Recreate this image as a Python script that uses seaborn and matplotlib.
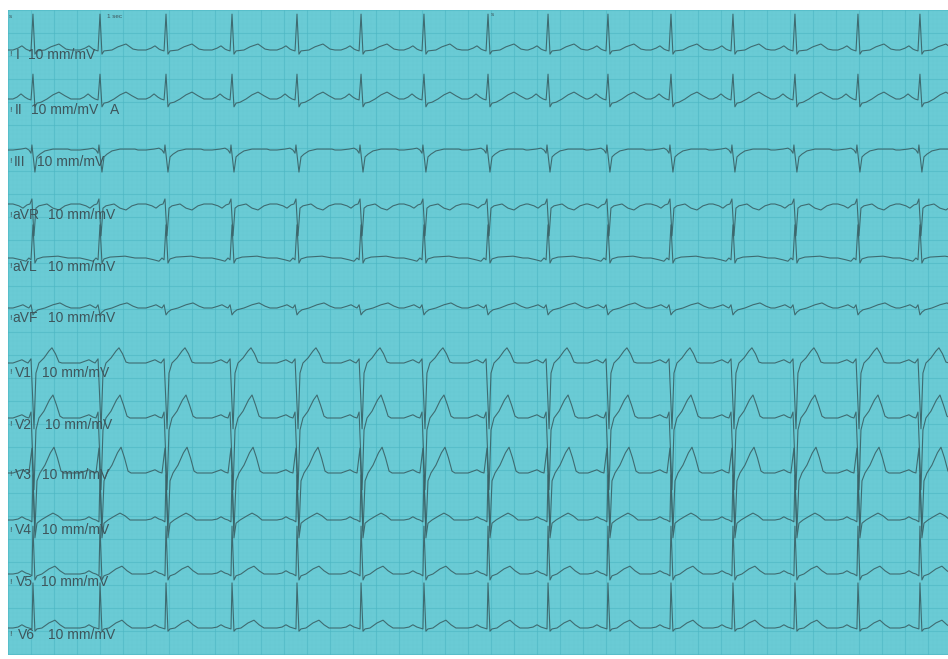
import numpy as np
import pandas as pd
import matplotlib
matplotlib.use("Agg")
import matplotlib.pyplot as plt
from matplotlib.ticker import MultipleLocator
import seaborn as sns

# ---------------- data ----------------
LEADS = ["I", "II", "III", "aVR", "aVL", "aVF", "V1", "V2", "V3", "V4", "V5", "V6"]
GAIN_LABEL = "10 mm/mV"

# R-peak times (s), common to all 12 simultaneous leads
R_TIMES = [0.217, 0.800, 1.374, 1.948, 2.513, 3.070, 3.617, 4.174,
           4.696, 5.217, 5.765, 6.304, 6.843, 7.391, 7.930]

# beat shapes: time offset from R (ms) and voltage (mV)
BEAT_MS = {
    "I":   [-174, -130, -96, -61, -43, -17, 0, 17, 35, 104, 157, 226, 287, 330],
    "II":  [-174, -139, -104, -70, -43, -17, 0, 17, 35, 70, 122, 174, 226, 278, 330],
    "III": [-174, -104, -61, -35, -17, -9, 17, 35, 61, 104, 174, 304, 330],
    "aVR": [-174, -122, -87, -52, -26, -9, 9, 26, 52, 122, 174, 226, 278, 330],
    "aVL": [-174, -104, -61, -35, -17, 0, 17, 35, 87, 218, 304],
    "aVF": [-174, -122, -87, -52, -35, -17, 0, 17, 43, 104, 174, 235, 287, 330],
    "V1":  [-174, -130, -96, -61, -43, -17, 9, 26, 52, 96, 139, 165, 196, 226, 252],
    "V2":  [-174, -130, -96, -61, -35, -17, 9, 26, 52, 96, 143, 174, 205, 235, 261],
    "V3":  [-174, -130, -96, -61, -35, -9, 17, 35, 61, 104, 152, 183, 213, 244, 270],
    "V4":  [-174, -130, -96, -61, -35, -9, 0, 17, 35, 70, 130, 174, 218, 261],
    "V5":  [-174, -130, -96, -61, -35, -9, 0, 17, 35, 78, 139, 191, 235, 278],
    "V6":  [-174, -130, -96, -61, -35, -9, 0, 17, 35, 78, 139, 191, 235, 278],
}
BEAT_MV = {
    "I":   [0, .04, .09, .02, 0, -.02, .78, -.09, -.02, 0, .07, .13, .02, 0],
    "II":  [0, .04, .11, .04, 0, -.02, .54, -.17, -.09, -.07, 0, .09, .15, .07, 0],
    "III": [0, .02, .04, 0, -.07, .11, -.48, -.15, -.09, -.02, .02, .02, 0],
    "aVR": [0, -.04, -.09, -.02, 0, .11, -.69, -.09, -.04, 0, -.09, -.13, -.04, 0],
    "aVL": [0, -.04, -.07, 0, -.04, .72, -.11, -.02, .02, .04, 0],
    "aVF": [0, .04, .07, .02, 0, .07, -.15, -.09, -.04, 0, .07, .11, .04, 0],
    "V1":  [0, .04, .07, .02, 0, .09, -1.43, -.22, 0, .11, .26, .33, .20, .02, 0],
    "V2":  [0, .04, .07, .02, 0, .13, -1.56, -.26, 0, .15, .39, .50, .28, .04, 0],
    "V3":  [0, .04, .07, .02, 0, .54, -1.26, -.17, 0, .17, .44, .56, .33, .04, 0],
    "V4":  [0, .02, .07, .02, 0, -.04, .98, -.39, -.07, 0, .09, .15, .09, 0],
    "V5":  [0, .02, .07, .02, 0, -.04, 1.04, -.13, -.04, 0, .11, .17, .07, 0],
    "V6":  [0, .02, .07, .02, 0, -.02, .98, -.07, -.02, 0, .11, .17, .07, 0],
}

# ---------------- layout ----------------
W, H = 948, 659
PAPER_LEFT, PAPER_TOP, PAPER_RIGHT, PAPER_BOTTOM = 8, 10, 948, 655
PX_PER_S, PX_PER_MV = 115.0, 46.0
ROW_Y = [50, 99, 150, 204, 258, 308, 363, 418, 473, 520, 574, 628]       # baselines (px)
LABEL_Y = [55, 110, 162, 215, 267, 318, 373, 425, 475, 530, 582, 635]
NAME_X = [16, 15, 14, 12, 12, 12, 15, 15, 15, 15, 16, 18]
GAIN_X = [28, 31, 37, 48, 48, 48, 42, 45, 42, 42, 41, 48]

PAPER = "#6acbd5"
MAJOR = "#4ab5c1"
MINOR = "#5ec3cd"
INK = "#3a6166"
TXT = "#3e555b"

sns.set_theme(style="white")
plt.rcParams["font.family"] = ["Liberation Sans", "DejaVu Sans"]

fig = plt.figure(figsize=(W / 100, H / 100), dpi=100)
fig.patch.set_facecolor("white")
ax = fig.add_axes([PAPER_LEFT / W, 1 - PAPER_BOTTOM / H,
                   (PAPER_RIGHT - PAPER_LEFT) / W, (PAPER_BOTTOM - PAPER_TOP) / H])
span_s = (PAPER_RIGHT - PAPER_LEFT) / PX_PER_S
span_mv = (PAPER_BOTTOM - PAPER_TOP) / PX_PER_MV
ax.set_xlim(0, span_s)
ax.set_ylim(-span_mv, 0)
ax.set_facecolor(PAPER)

# ECG paper grid
ax.xaxis.set_major_locator(MultipleLocator(0.2))
ax.xaxis.set_minor_locator(MultipleLocator(0.04))
ax.yaxis.set_major_locator(MultipleLocator(0.5))
ax.yaxis.set_minor_locator(MultipleLocator(0.1))
ax.grid(which="major", color=MAJOR, lw=0.8, alpha=0.55)
ax.grid(which="minor", color=MINOR, lw=0.3, alpha=0.12)
ax.tick_params(which="both", length=0, labelbottom=False, labelleft=False)
for s in ax.spines.values():
    s.set_visible(False)
ax.set_axisbelow(True)

# traces
frames = []
for i, lead in enumerate(LEADS):
    base = -(ROW_Y[i] - PAPER_TOP) / PX_PER_MV
    ts, vs = [0.0], [0.0]
    for r in R_TIMES:
        for dt, v in zip(BEAT_MS[lead], BEAT_MV[lead]):
            ts.append(r + dt / 1000.0)
            vs.append(v)
    ts.append(span_s + 0.2)
    vs.append(0.0)
    frames.append(pd.DataFrame({"t": ts, "mv": np.array(vs) + base, "lead": lead}))
df = pd.concat(frames, ignore_index=True)

sns.lineplot(data=df, x="t", y="mv", units="lead", estimator=None, sort=False,
             color=INK, lw=0.8, alpha=0.9, ax=ax, legend=False)
ax.set_xlabel("")
ax.set_ylabel("")

# labels
for i, lead in enumerate(LEADS):
    yf = 1 - LABEL_Y[i] / H
    fig.text(9 / W, yf, "!", fontsize=6, color=TXT, va="center", ha="left")
    fig.text(NAME_X[i] / W, yf, lead, fontsize=10, color=TXT, va="center", ha="left")
    fig.text(GAIN_X[i] / W, yf, GAIN_LABEL, fontsize=10, color=TXT, va="center", ha="left")
fig.text(110 / W, 1 - 110 / H, "A", fontsize=10, color=TXT, va="center", ha="left")
fig.text(107 / W, 1 - 16 / H, "1 sec", fontsize=4.5, color=TXT, va="center", ha="left")
fig.text(9 / W, 1 - 16 / H, "s", fontsize=4.5, color=TXT, va="center", ha="left")
fig.text(491 / W, 1 - 15 / H, "s", fontsize=4.5, color=TXT, va="center", ha="left")

fig.savefig("out.png", dpi=100, facecolor="white")
